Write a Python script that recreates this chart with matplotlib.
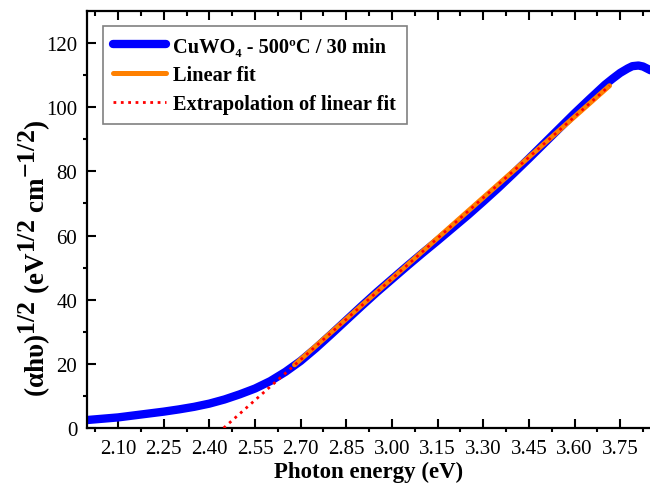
import matplotlib
matplotlib.use("Agg")
import matplotlib.pyplot as plt
import matplotlib._mathtext as mathtext_impl

# Tauc plot: (alpha h nu)^1/2 vs photon energy
energy = [2.00, 2.05, 2.10, 2.15, 2.20, 2.25, 2.30, 2.35, 2.40, 2.45,
          2.50, 2.55, 2.60, 2.65, 2.70, 2.75, 2.80, 2.85, 2.90, 2.95,
          3.00, 3.05, 3.10, 3.15, 3.20, 3.25, 3.30, 3.35, 3.40, 3.45,
          3.50, 3.55, 3.60, 3.65, 3.70, 3.725, 3.75, 3.775, 3.79, 3.81,
          3.825, 3.85]
tauc = [2.5, 2.9, 3.3, 3.9, 4.5, 5.1, 5.8, 6.6, 7.6, 8.9,
        10.5, 12.3, 14.6, 17.5, 20.9, 24.9, 29.2, 33.6, 38.0, 42.3,
        46.4, 50.5, 54.5, 58.4, 62.4, 66.4, 70.6, 74.9, 79.4, 84.0,
        88.7, 93.4, 98.1, 102.6, 107.0, 108.9, 110.7, 112.1, 112.8, 113.0,
        112.7, 111.5]

fit_x = [2.68, 3.715]
fit_y = [19.7, 106.7]
ext_x = [2.447, 3.715]
ext_y = [0.0, 106.7]

x_major = [2.10, 2.25, 2.40, 2.55, 2.70, 2.85, 3.00, 3.15, 3.30, 3.45, 3.60, 3.75]
x_minor = [2.025, 2.175, 2.325, 2.475, 2.625, 2.775, 2.925, 3.075, 3.225,
           3.375, 3.525, 3.675, 3.825]
y_major = [0, 20, 40, 60, 80, 100, 120]
y_minor = [10, 30, 50, 70, 90, 110]

# near full-size superscripts in the axis label
mathtext_impl.SHRINK_FACTOR = 0.95

plt.rcParams.update({
    "font.family": ["Liberation Serif", "DejaVu Serif"],
    "mathtext.fontset": "custom",
    "mathtext.rm": "Liberation Serif:bold",
    "mathtext.it": "Liberation Serif:bold",
    "mathtext.bf": "Liberation Serif:bold",
})

fig = plt.figure(figsize=(6.5, 4.85), dpi=100)
ax = fig.add_axes([87 / 650, 56 / 485, 563 / 650, 417 / 485])

ax.plot(energy, tauc, color="#0000ff", lw=6.0, solid_capstyle="round",
        label="CuWO\u2084 - 500ºC / 30 min", zorder=2)
ax.plot(fit_x, fit_y, color="#ff8000", lw=3.6, solid_capstyle="round",
        label="Linear fit", zorder=3)
ax.plot(ext_x, ext_y, color="#ff0000", lw=2.0, ls=":",
        label="Extrapolation of linear fit", zorder=4)

ax.set_xlim(1.998, 3.848)
ax.set_ylim(0, 130)

ax.set_xticks(x_major)
ax.set_xticks(x_minor, minor=True)
ax.set_xticklabels([f"{v:.2f}" for v in x_major])
ax.set_yticks(y_major)
ax.set_yticks(y_minor, minor=True)

for s in ("left", "bottom", "top"):
    ax.spines[s].set_linewidth(1.6)
ax.spines["right"].set_visible(False)

ax.tick_params(which="major", direction="in", length=6.5, width=1.5,
               labelsize=15, top=False, right=False)
ax.tick_params(which="minor", direction="out", length=3.2, width=1.5,
               top=False, right=False)
ax.tick_params(axis="x", which="major", pad=8)
ax.tick_params(axis="y", which="major", pad=7)

# top axis: ticks only, all pointing inward
top = ax.twiny()
top.set_xlim(ax.get_xlim())
top.set_xticks(x_major)
top.set_xticks(x_minor, minor=True)
top.tick_params(which="major", direction="in", length=6.5, width=1.5, labeltop=False)
top.tick_params(which="minor", direction="in", length=3.5, width=1.5)
for s in top.spines.values():
    s.set_visible(False)

ax.set_xlabel("Photon energy (eV)", fontsize=16.5, fontweight="bold", labelpad=2)
ax.set_ylabel("(αhυ)$^{1/2}$ (eV$^{1/2}$ cm$^{-1/2}$)", fontsize=19.5,
              fontweight="bold")
ax.yaxis.set_label_coords(-0.062, 0.41)

leg = ax.legend(loc="upper left", bbox_to_anchor=(0.028, 0.963, 0.541, 0.0),
                mode="expand", borderaxespad=0, fancybox=False, framealpha=1,
                edgecolor="#808080", handlelength=2.6, handletextpad=0.35,
                labelspacing=0.42, borderpad=0.5,
                prop={"family": ["Liberation Serif", "DejaVu Serif"],
                      "weight": "bold", "size": 14.7})
leg.get_frame().set_linewidth(1.2)

fig.savefig("out.png", dpi=100)
